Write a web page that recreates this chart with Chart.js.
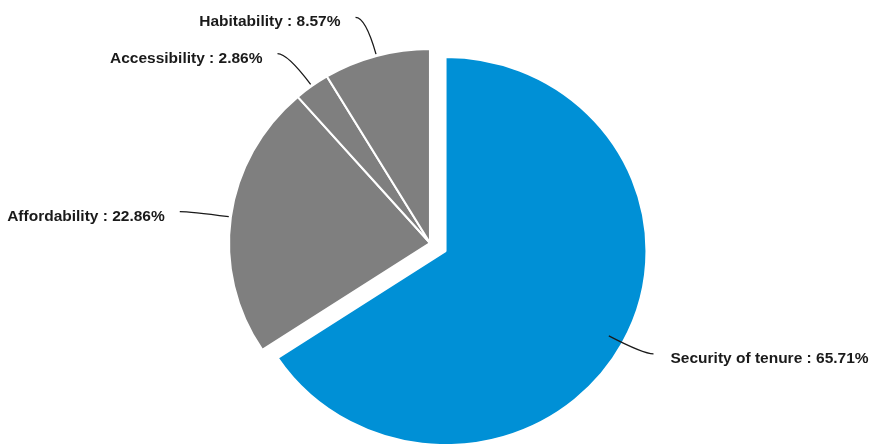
<!DOCTYPE html>
<html>
<head>
<meta charset="utf-8">
<title>Housing concerns</title>
<script src="https://cdn.jsdelivr.net/npm/chart.js"></script>
<style>
  html, body { margin: 0; padding: 0; background: #fff; }
  #wrap { width: 870px; height: 444px; }
</style>
</head>
<body>
<div id="wrap"><canvas id="pie" width="870" height="444"></canvas></div>
<script>
// slice data, clockwise from 12 o'clock
const categories = ['Security of tenure', 'Affordability', 'Accessibility', 'Habitability'];
const shares = [65.71, 22.86, 2.86, 8.57];
const sliceColors = ['#0090d6', '#7f7f7f', '#7f7f7f', '#7f7f7f'];

// the pie is a little wider than tall
const stretchX = 1.036;
// pulled-out distance per slice (done by hand: the built-in offset also grows the radius)
const pullOut = [17, 0, 0, 0];

function pieCenter(chart) {
    const a = chart.chartArea;
    return { x: (a.left + a.right) / 2, y: (a.top + a.bottom) / 2 };
}

const outsideLabels = {
    id: 'outsideLabels',
    afterUpdate(chart) {
        chart.getDatasetMeta(0).data.forEach((el, i) => {
            if (!pullOut[i]) return;
            const mid = (el.startAngle + el.endAngle) / 2;
            el.x += Math.cos(mid) * pullOut[i];
            el.y += Math.sin(mid) * pullOut[i];
        });
    },
    beforeDatasetsDraw(chart) {
        const c = pieCenter(chart);
        const ctx = chart.ctx;
        ctx.save();
        ctx.translate(c.x, c.y);
        ctx.scale(stretchX, 1);
        ctx.translate(-c.x, -c.y);
    },
    afterDatasetsDraw(chart) {
        const ctx = chart.ctx;
        ctx.restore();
        const c = pieCenter(chart);
        const arcs = chart.getDatasetMeta(0).data;
        ctx.save();
        ctx.font = 'bold 15.5px "Liberation Sans", Arial, sans-serif';
        ctx.fillStyle = '#1a1a1a';
        ctx.strokeStyle = '#1a1a1a';
        ctx.lineWidth = 1.3;
        ctx.textBaseline = 'alphabetic';
        arcs.forEach((el, i) => {
            const { startAngle, endAngle, outerRadius } = el.getProps(['startAngle', 'endAngle', 'outerRadius'], true);
            const mid = (startAngle + endAngle) / 2;
            const cx = Math.cos(mid), cy = Math.sin(mid);
            const sx = c.x + cx * (outerRadius + 2) * stretchX;
            const sy = c.y + cy * (outerRadius + 2);
            const ex = c.x + cx * (outerRadius + 40) * stretchX;
            const ey = c.y + cy * (outerRadius + 40);
            const right = cx > 0;
            const tx = ex + (right ? 10 : -10);
            ctx.beginPath();
            ctx.moveTo(sx, sy);
            ctx.quadraticCurveTo(ex, ey, tx, ey);
            ctx.stroke();
            ctx.textAlign = right ? 'left' : 'right';
            ctx.fillText(categories[i] + ' : ' + shares[i].toFixed(2) + '%', tx + (right ? 17 : -15), ey + 9);
        });
        ctx.restore();
    }
};

new Chart(document.getElementById('pie'), {
    type: 'pie',
    data: {
        labels: categories,
        datasets: [{
            data: shares,
            backgroundColor: sliceColors,
            borderColor: '#ffffff',
            borderWidth: 2,
            radius: 194,
            clip: false
        }]
    },
    options: {
        responsive: false,
        animation: false,
        layout: { padding: { top: 42, right: 10, bottom: 0, left: 0 } },
        plugins: {
            legend: { display: false },
            tooltip: { enabled: false }
        }
    },
    plugins: [outsideLabels]
});
</script>
</body>
</html>
